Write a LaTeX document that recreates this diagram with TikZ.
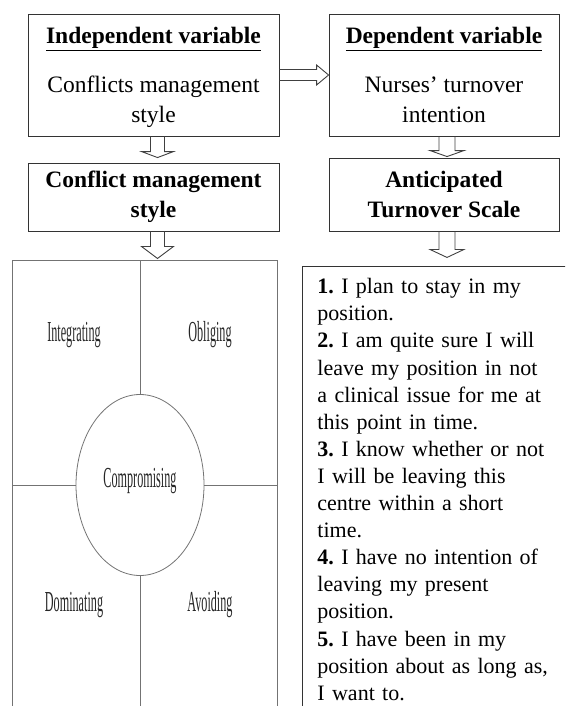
\documentclass[tikz,border=0pt]{standalone}
\usepackage{fontspec}
\setmainfont{Liberation Serif}
\usetikzlibrary{calc,shapes.geometric}

\tikzset{
	box/.style={draw=black!80, line width=0.9pt, minimum width=251pt, align=center, inner sep=0pt, font=\fontsize{23.5}{30}\selectfont},
	head/.style={box, font=\fontsize{23.5}{30}\selectfont\bfseries},
	blockarrow/.style n args={3}{to path={
		($(\tikztostart)!#1!90:(\tikztotarget)$)
		-- ($(\tikztotarget)!#3!(\tikztostart)!#1!-90:(\tikztostart)$)
		-- ($(\tikztotarget)!#3!(\tikztostart)!#2!-90:(\tikztostart)$)
		-- (\tikztotarget)
		-- ($(\tikztotarget)!#3!(\tikztostart)!#2!90:(\tikztostart)$)
		-- ($(\tikztotarget)!#3!(\tikztostart)!#1!90:(\tikztostart)$)
		-- ($(\tikztostart)!#1!-90:(\tikztotarget)$)}},
	arrowline/.style={draw=black!75, line width=0.9pt},
	quad/.style={draw=black!55, line width=0.8pt},
	stylename/.style={text=black!85, inner sep=0pt, font=\fontsize{29}{29}\selectfont}
}
\newcommand{\narrow}[1]{\scalebox{0.42}[1]{#1}}
\frenchspacing

\begin{document}
\begin{tikzpicture}[x=1pt, y=-1pt]
	\clip (0,0) rectangle (565,706);

	% variables
	\node[box, minimum height=122pt] (iv) at (153.5,75) {\textbf{\underline{Independent variable}}\\[19pt] Conflicts management\\ \smash{style}};
	\node[box, minimum width=230pt, minimum height=122pt] (dv) at (444,75) {\textbf{\underline{Dependent variable}}\\[19pt] Nurses’ turnover\\ intention};

	% instruments
	\node[head, minimum height=68pt] (cms) at (153.5,197) {Conflict management\\ style};
	\node[head, minimum width=230pt, minimum height=73pt] (ats) at (444,194.5) {Anticipated\\ Turnover Scale};

	\path[arrowline] (iv.east) to[blockarrow={5.5pt}{10pt}{12pt}] (dv.west);
	\path[arrowline] ([xshift=4pt]iv.south) to[blockarrow={7pt}{16pt}{6pt}] ([xshift=4pt,yshift=5pt]cms.north);
	\path[arrowline] ([xshift=3pt]dv.south) to[blockarrow={8pt}{17pt}{6pt}] ([xshift=3pt,yshift=1pt]ats.north);
	\path[arrowline] ([xshift=4pt]cms.south) to[blockarrow={7pt}{16pt}{12pt}] ([xshift=4pt,yshift=-27pt]cms.south);
	\path[arrowline] ([xshift=3pt]ats.south) to[blockarrow={8pt}{17pt}{8pt}] ([xshift=3pt,yshift=-26pt]ats.south);

	% five styles grid
	\node[quad, minimum width=265pt, minimum height=470pt, anchor=north west] (grid) at (12,260) {};
	\node[quad, ellipse, minimum width=128pt, minimum height=181pt, inner sep=0pt] (cmp) at (140,485) {};
	\draw[quad] (cmp.north) -- (cmp.north |- grid.north);
	\draw[quad] (cmp.south) -- (cmp.south |- grid.south);
	\draw[quad] (cmp.west) -- (cmp.west -| grid.west);
	\draw[quad] (cmp.east) -- (cmp.east -| grid.east);

	\node[stylename] (int) at (74,335) {\narrow{Integrating}};
	\node[stylename] (obl) at (210,335) {\narrow{Obliging}};
	\node[stylename] (com) at (140,481) {\narrow{Compromising}};
	\node[stylename] (dom) at (74,605) {\narrow{Dominating}};
	\node[stylename] (avo) at (210,605) {\narrow{Avoiding}};

	% scale items
	\node[draw=black!80, line width=0.9pt, anchor=north west, inner xsep=15pt, inner ysep=12pt, text width=260pt, align=left, font=\fontsize{22}{27.1}\selectfont] (items) at (302,266) {\textbf{1.} I plan to stay in my\\ position.\\ \textbf{2.} I am quite sure I will\\ leave my position in not\\ a clinical issue for me at\\ this point in time.\\ \textbf{3.} I know whether or not\\ I will be leaving this\\ centre within a short\\ time.\\ \textbf{4.} I have no intention of\\ leaving my present\\ position.\\ \textbf{5.} I have been in my\\ position about as long as,\\ I want to.};
\end{tikzpicture}
\end{document}
